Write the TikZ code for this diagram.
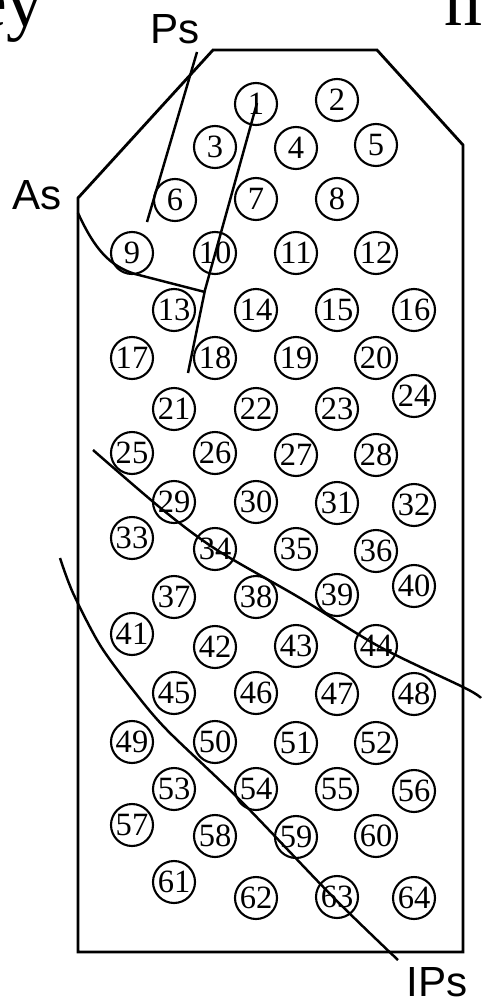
\documentclass[tikz,border=0pt]{standalone}
\usepackage{fontspec}
\setmainfont{Liberation Serif}
\newfontfamily\labelfont{Liberation Sans}
\usetikzlibrary{positioning}

\begin{document}
\begin{tikzpicture}[x=0.02cm, y=-0.02cm,
    hole/.style={draw, circle, line width=1.2pt, inner sep=0pt,
      minimum size=0.84cm, font=\fontsize{18.5}{18.5}\selectfont},
    zone/.style={line width=1.4pt},
    zonelabel/.style={font=\labelfont\fontsize{24}{24}\selectfont, inner sep=0pt}]
  \useasboundingbox (0,0) rectangle (481,1004);

  % cut-off words of the surrounding page
  \node[anchor=base east, inner sep=0pt, font=\fontsize{42}{42}\selectfont] (txtl) at (44,27) {ey};
  \node[anchor=base west, inner sep=0pt, font=\fontsize{42}{42}\selectfont] (txtr) at (444,26) {m};

  % outline of the array
  \draw[line width=1.6pt] (78,198) -- (213,50) -- (377,50) -- (463,145)
    -- (463,952) -- (78,952) -- cycle;

  % holes - row by row
  \foreach \n/\x/\y in {1/256/104, 2/337/100,
      3/215/147, 4/296/148, 5/376/145,
      6/175/200, 7/256/199, 8/337/199,
      9/132/253, 10/215/253, 11/296/253, 12/376/253,
      13/174/310, 14/256/310, 15/337/310, 16/414/310,
      17/132/358, 18/215/358, 19/296/358, 20/376/358,
      21/174/409, 22/256/409, 23/337/409, 24/414/396,
      25/132/453, 26/215/453, 27/296/455, 28/376/455,
      29/174/502, 30/256/502, 31/337/503, 32/414/505,
      33/132/538, 34/215/549, 35/296/549, 36/376/551,
      37/174/597, 38/256/597, 39/337/595, 40/414/586,
      41/132/634, 42/215/647, 43/296/646, 44/376/646,
      45/174/693, 46/256/693, 47/337/694, 48/414/694,
      49/132/742, 50/215/742, 51/296/743, 52/376/743,
      53/174/789, 54/256/789, 55/337/789, 56/414/791,
      57/132/825, 58/215/836, 59/296/837, 60/376/836,
      61/174/882, 62/256/898, 63/337/897, 64/414/898}
    \node[hole] (h\n) at (\x,\y) {\n};

  % zone borders
  \draw[zone] (197,52) -- (147,222);
  \draw[zone] (257,103) -- (205,290) -- (188,373);
  \draw[zone] (78,213) .. controls (95,250) and (110,266) .. (135,274) -- (205,292);
  \draw[zone] plot[smooth] coordinates {(93,450) (163,510) (217,550)
    (300,598) (380,647) (465,688) (481,698)};
  \draw[zone] plot[smooth] coordinates {(60,558) (73,593) (100,645)
    (133,690) (167,730) (240,800) (333,897) (398,960)};

  % zone names
  \node[zonelabel] (ps) at (175,29) {Ps};
  \node[zonelabel] (as) at (37,195) {As};
  \node[zonelabel] (ips) at (437,982) {IPs};
\end{tikzpicture}
\end{document}
